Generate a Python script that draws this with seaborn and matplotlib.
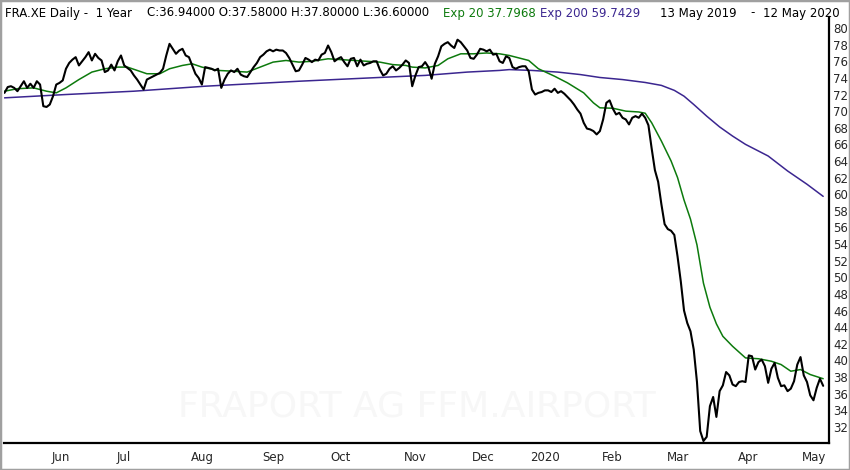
import numpy as np
import pandas as pd
import matplotlib
matplotlib.use('Agg')
import matplotlib.pyplot as plt
import matplotlib.transforms as mtrans
from matplotlib.patches import Rectangle
import seaborn as sns

sns.set_style('white')
plt.rcParams['font.family'] = ['DejaVu Sans']

# Xetra trading days, 13 May 2019 - 12 May 2020
holidays = ['2019-12-24', '2019-12-25', '2019-12-26', '2019-12-31',
            '2020-01-01', '2020-04-10', '2020-04-13', '2020-05-01']
dates = pd.bdate_range('2019-05-13', '2020-05-12')
dates = dates[~dates.isin(pd.to_datetime(holidays))]

# daily close
close = [
    72.2, 72.9, 73.0, 72.8, 72.4, 73.0, 73.6, 72.8, 73.3, 72.8,
    73.6, 73.2, 70.6, 70.5, 70.8, 71.8, 73.2, 73.4, 73.7, 75.1,
    75.8, 76.2, 76.5, 75.5, 76.0, 76.5, 77.1, 76.1, 76.9, 76.4,
    76.1, 74.7, 74.9, 75.6, 74.9, 76.0, 76.7, 75.5, 75.2, 74.9,
    74.3, 73.8, 73.2, 72.6, 73.8, 74.0, 74.2, 74.4, 74.6, 75.1,
    76.7, 78.1, 77.5, 76.9, 77.3, 77.5, 76.7, 76.5, 75.5, 74.5,
    74.0, 73.2, 75.3, 75.2, 75.1, 74.9, 75.1, 72.8, 73.8, 74.5,
    74.9, 74.7, 75.1, 74.4, 74.2, 74.1, 74.7, 75.3, 75.8, 76.5,
    76.8, 77.2, 77.4, 77.2, 77.4, 77.3, 77.3, 77.0, 76.4, 75.6,
    74.8, 74.9, 75.6, 76.4, 76.2, 75.9, 76.2, 76.1, 76.8, 77.0,
    77.9, 77.1, 76.0, 76.3, 76.5, 75.9, 75.4, 76.3, 76.4, 75.4,
    76.2, 75.5, 75.7, 75.8, 76.0, 76.0, 75.0, 74.3, 74.5, 75.1,
    75.4, 74.9, 75.2, 75.6, 76.1, 75.8, 73.0, 74.3, 75.3, 75.4,
    75.9, 75.3, 73.9, 75.7, 76.6, 77.8, 78.1, 78.3, 77.9, 77.6,
    78.6, 78.3, 77.8, 77.3, 76.4, 76.3, 76.8, 77.5, 77.4, 77.2,
    77.4, 76.8, 76.9, 76.0, 75.8, 76.6, 76.4, 75.3, 75.1, 75.3,
    75.4, 75.4, 74.8, 72.6, 72.0, 72.2, 72.3, 72.5, 72.5, 72.3,
    72.7, 72.2, 72.4, 72.1, 71.7, 71.3, 70.8, 70.2, 69.7, 68.6,
    67.9, 67.8, 67.6, 67.2, 67.6, 69.0, 71.0, 71.3, 70.3, 69.6,
    69.8, 69.2, 69.0, 68.4, 69.2, 69.4, 69.2, 69.7, 69.2, 68.3,
    65.5, 62.9, 61.5, 58.8, 56.4, 55.8, 55.6, 55.1, 52.5, 49.5,
    46.0, 44.5, 43.5, 41.3, 37.4, 31.5, 30.3, 30.8, 34.5, 35.6,
    33.2, 36.3, 37.0, 38.6, 38.2, 37.1, 36.9, 37.4, 37.5, 37.4,
    40.6, 40.5, 38.9, 39.8, 40.1, 39.3, 37.3, 39.0, 39.7, 37.9,
    36.9, 37.0, 36.3, 36.6, 37.5, 39.5, 40.4, 38.2, 37.4, 35.8,
    35.2, 36.7, 37.8, 36.94,
]

# exponential averages, read at sample days
ema20_day = [0, 4, 9, 13, 16, 19, 23, 27, 31, 35, 38, 41, 44, 48, 51, 55, 58,
             61, 66, 71, 75, 79, 83, 87, 91, 95, 100, 104, 108, 112, 116, 120,
             124, 126, 130, 134, 137, 141, 145, 149, 153, 156, 158, 162, 165,
             170, 174, 179, 182, 184, 188, 192, 196, 198, 200, 203, 206, 208,
             210, 212, 214, 216, 218, 220, 222, 225, 229, 233, 237, 240, 243,
             246, 249, 253]
ema20 = [72.4, 72.7, 72.8, 72.4, 72.2, 72.8, 73.8, 74.7, 75.1, 75.3, 75.3,
         74.9, 74.5, 74.5, 75.1, 75.5, 75.7, 75.3, 74.9, 74.8, 74.7, 75.3,
         75.9, 76.1, 75.9, 76.0, 76.3, 76.2, 76.1, 76.0, 75.9, 75.6, 75.5,
         75.3, 75.2, 75.5, 76.3, 76.9, 76.9, 77.0, 76.9, 76.7, 76.5, 76.1,
         75.1, 74.2, 73.4, 72.2, 71.0, 70.4, 70.35, 70.0, 69.9, 69.75, 68.6,
         66.4, 64.0, 62.0, 59.3, 57.0, 53.9, 49.3, 46.4, 44.4, 42.9, 41.7,
         40.3, 40.2, 39.9, 39.5, 38.7, 38.9, 38.3, 37.7968]

ema200_day = [0, 19, 40, 62, 91, 124, 130, 143, 153, 156, 163, 171, 178, 184,
              191, 198, 203, 207, 210, 213, 217, 221, 225, 229, 236, 242, 248,
              253]
ema200 = [71.6, 72.0, 72.4, 73.0, 73.6, 74.2, 74.3, 74.7, 74.9, 75.0, 74.9,
          74.7, 74.4, 74.05, 73.8, 73.45, 73.1, 72.5, 71.8, 70.8, 69.4, 68.1,
          67.0, 66.0, 64.6, 62.8, 61.2, 59.7429]

assert len(close) == len(dates)

price = pd.DataFrame({'day': np.arange(len(dates)), 'close': close})
e20 = pd.DataFrame({'day': ema20_day, 'value': ema20})
e200 = pd.DataFrame({'day': ema200_day, 'value': ema200})

fig = plt.figure(figsize=(8.5, 4.7), dpi=100)
ax = fig.add_axes([4 / 850, 27 / 470, 825 / 850, 426 / 470])

sns.lineplot(data=e200, x='day', y='value', color='#3b2690', lw=1.1, ax=ax)
sns.lineplot(data=e20, x='day', y='value', color='#0d7a0d', lw=1.1, ax=ax)
sns.lineplot(data=price, x='day', y='close', color='black', lw=1.5, ax=ax)

ax.set_xlim(-0.15, 254.8)
ax.set_ylim(30.06, 81.33)
ax.set_xlabel('')
ax.set_ylabel('')

# y axis on the right
ax.yaxis.tick_right()
ax.set_yticks(range(32, 81, 2))
ax.tick_params(axis='y', length=0, pad=3, labelsize=8.5)

# month ticks at first trading day of each month
month_pos = []
month_lab = []
for i in range(1, len(dates)):
    if dates[i].month != dates[i - 1].month:
        month_pos.append(i)
        month_lab.append(str(dates[i].year) if dates[i].month == 1
                         else dates[i].strftime('%b'))
ax.set_xticks(month_pos)
ax.set_xticklabels(month_lab)
ax.tick_params(axis='x', length=5, width=1.3, direction='out', pad=1,
               labelsize=8.5, color='black')
shift = mtrans.ScaledTranslation(-1 / 72, 0, fig.dpi_scale_trans)
for lbl in ax.get_xticklabels():
    lbl.set_ha('left')
    lbl.set_transform(lbl.get_transform() + shift)

for side in ['top', 'left']:
    ax.spines[side].set_visible(False)
for side in ['right', 'bottom']:
    ax.spines[side].set_color('black')
    ax.spines[side].set_linewidth(1.6)

# faint watermark
ax.text(0.5, 0.085, 'FRAPORT AG FFM.AIRPORT', transform=ax.transAxes,
        ha='center', va='center', fontsize=26, color='#f7f7f7', zorder=0)

# header line
header = [
    (5, 'FRA.XE Daily -  1 Year', 'black'),
    (147, 'C:36.94000 O:37.58000 H:37.80000 L:36.60000', 'black'),
    (443, 'Exp 20 37.7968', '#0d7a0d'),
    (540, 'Exp 200 59.7429', '#3b2690'),
    (660, '13 May 2019', 'black'),
    (750, '-', 'black'),
    (763, '12 May 2020', 'black'),
]
for xp, txt, col in header:
    fig.text(xp / 850, 1 - 13 / 470, txt, ha='left', va='center',
             fontsize=8.5, color=col)

fig.patches.append(Rectangle((0, 0), 1, 1, transform=fig.transFigure,
                             fill=False, edgecolor='#a0a0a0', lw=2.5))

fig.savefig('out.png', dpi=100)
